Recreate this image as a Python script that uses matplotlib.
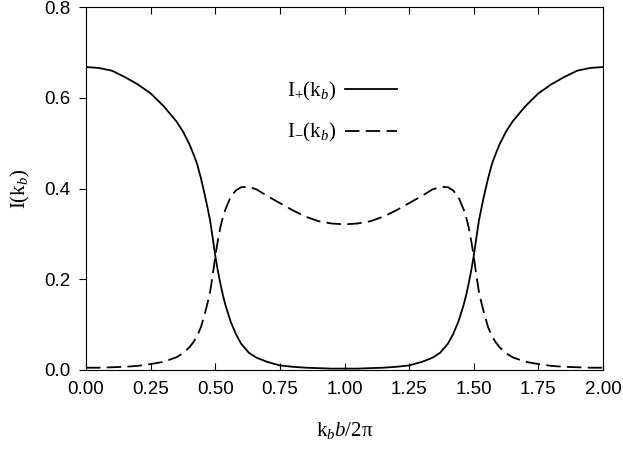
import matplotlib
matplotlib.use("Agg")
import matplotlib.pyplot as plt

plt.rcParams['mathtext.fontset'] = 'custom'
plt.rcParams['mathtext.rm'] = 'Liberation Serif'
plt.rcParams['mathtext.it'] = 'Liberation Serif:italic'

# valores (curvas simetricas em torno de 1.0)
kb = [0.00, 0.05, 0.10, 0.15, 0.20, 0.25, 0.30, 0.35, 0.375, 0.40, 0.415, 0.43,
      0.445, 0.46, 0.47, 0.48, 0.49, 0.50, 0.51, 0.52, 0.53, 0.54, 0.56, 0.58,
      0.60, 0.63, 0.66, 0.70, 0.75, 0.80, 0.85, 0.90, 0.95, 1.00,
      1.05, 1.10, 1.15, 1.20, 1.25, 1.30, 1.34, 1.37, 1.40, 1.42, 1.44, 1.46,
      1.47, 1.48, 1.49, 1.50, 1.51, 1.52, 1.53, 1.54, 1.555, 1.57, 1.585, 1.60,
      1.625, 1.65, 1.70, 1.75, 1.80, 1.85, 1.90, 1.95, 2.00]

i_mais = [0.668, 0.666, 0.660, 0.646, 0.630, 0.610, 0.582, 0.548, 0.526, 0.498,
          0.477, 0.454, 0.422, 0.385, 0.358, 0.330, 0.292, 0.252, 0.219, 0.190,
          0.164, 0.142, 0.106, 0.079, 0.058, 0.038, 0.027, 0.018, 0.010, 0.007,
          0.005, 0.004, 0.003, 0.003,
          0.003, 0.004, 0.005, 0.007, 0.010, 0.018, 0.027, 0.038, 0.058, 0.079,
          0.106, 0.142, 0.164, 0.190, 0.219, 0.252, 0.292, 0.330, 0.358, 0.385,
          0.422, 0.454, 0.477, 0.498, 0.526, 0.548, 0.582, 0.610, 0.630, 0.646,
          0.660, 0.666, 0.668]

i_menos = [0.005, 0.005, 0.006, 0.007, 0.009, 0.013, 0.018, 0.028, 0.037, 0.050,
           0.061, 0.075, 0.095, 0.125, 0.147, 0.172, 0.208, 0.250, 0.285, 0.315,
           0.338, 0.355, 0.382, 0.396, 0.403, 0.404, 0.398, 0.384, 0.368, 0.352,
           0.338, 0.328, 0.323, 0.321,
           0.323, 0.328, 0.338, 0.352, 0.368, 0.384, 0.398, 0.404, 0.403, 0.396,
           0.382, 0.355, 0.338, 0.315, 0.285, 0.250, 0.208, 0.172, 0.147, 0.125,
           0.095, 0.075, 0.061, 0.050, 0.037, 0.028, 0.018, 0.013, 0.009, 0.007,
           0.006, 0.005, 0.005]

xticks = [0.00, 0.25, 0.50, 0.75, 1.00, 1.25, 1.50, 1.75, 2.00]
yticks = [0.0, 0.2, 0.4, 0.6, 0.8]

fig = plt.figure(figsize=(6.23, 4.49), dpi=100)
ax = fig.add_axes([0.138, 0.176, 0.830, 0.808])

ax.plot(kb, i_mais, '-', color='black', lw=1.3, label=r'$\mathrm{I_{+}(k}_{b}\mathrm{)}$')
ax.plot(kb, i_menos, color='black', lw=1.3, dashes=(8, 3.5),
        label=r'$\mathrm{I_{-}(k}_{b}\mathrm{)}$')

ax.set_xlim(0, 2)
ax.set_ylim(0, 0.8)
ax.set_xticks(xticks)
ax.set_xticklabels(['%.2f' % t for t in xticks])
ax.set_yticks(yticks)
ax.set_yticklabels(['%.1f' % t for t in yticks])

for lab in ax.get_xticklabels() + ax.get_yticklabels():
    lab.set_fontfamily('Liberation Sans')
    lab.set_fontsize(13.5)

ax.tick_params(axis='x', direction='in', top=True, length=5, pad=8)
ax.tick_params(axis='y', direction='out', right=False, length=5, pad=6)

ax.set_xlabel(r'$\mathrm{k}_{b}b\mathrm{/2π}$', fontsize=15, labelpad=16)
ax.set_ylabel(r'$\mathrm{I(k}_{b}\mathrm{)}$', fontsize=15, labelpad=9)

ax.legend(loc='center', bbox_to_anchor=(0.495, 0.711), frameon=False,
          markerfirst=False, fontsize=15, handlelength=2.5, handletextpad=0.4,
          labelspacing=0.9)

plt.savefig('out.png', dpi=100)
